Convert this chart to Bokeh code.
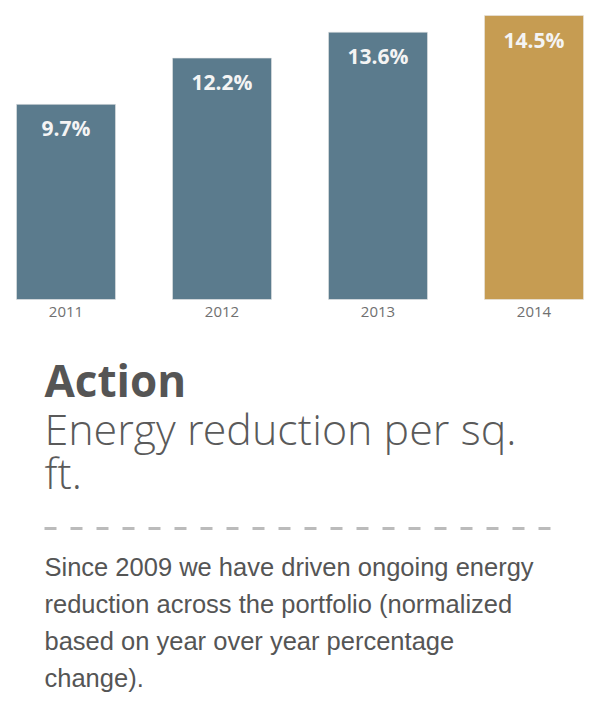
from bokeh.plotting import figure
from bokeh.layouts import column
from bokeh.models import Range1d, ColumnDataSource
from bokeh.core.properties import value
from bokeh.embed import file_html
from bokeh.resources import INLINE

# ---- data ----
years = [2011, 2012, 2013, 2014]
year_labels = ["2011", "2012", "2013", "2014"]
reduction = [9.7, 12.2, 13.6, 14.5]
value_labels = ["9.7%", "12.2%", "13.6%", "14.5%"]
bar_colors = ["#5b7b8d", "#5b7b8d", "#5b7b8d", "#c69c52"]

title_bold = "Action"
title_lines = ["Energy reduction per sq.", "ft."]
body_lines = [
    "Since 2009 we have driven ongoing energy",
    "reduction across the portfolio (normalized",
    "based on year over year percentage",
    "change).",
]

W = 586
BASE = -0.85
PX = 18.5  # pixels per percentage point

src = ColumnDataSource(dict(x=years, top=reduction, lab=value_labels,
                            yl=year_labels, color=bar_colors,
                            base=[BASE] * len(years)))

H1 = 338
x0 = years[0] - 65.5 / 156
p = figure(width=W, height=H1, output_backend="svg", toolbar_location=None,
           x_range=Range1d(x0, x0 + W / 156),
           y_range=Range1d(BASE - 39 / PX, BASE + 299 / PX),
           min_border=0, outline_line_color=None)
p.axis.visible = False
p.grid.visible = False
p.background_fill_color = "white"
p.border_fill_color = "white"

p.vbar(x="x", top="top", bottom="base", width=0.635, color="color",
       line_color="#e8e8e8", line_alpha=0.6, line_width=1, source=src)
p.text(x="x", y="top", text="lab", source=src, text_align="center",
       text_baseline="alphabetic", y_offset=24, text_color="#f4f4f4",
       text_font=value("Open Sans"), text_font_size="21px", text_font_style="bold")
p.text(x="x", y="base", text="yl", source=src, text_align="center",
       text_baseline="alphabetic", y_offset=12.5, text_color="#707070",
       text_font=value("Open Sans"), text_font_size="15px")

H2 = 364
q = figure(width=W, height=H2, output_backend="svg", toolbar_location=None,
           x_range=Range1d(0, W), y_range=Range1d(H2, 0),
           min_border=0, outline_line_color=None)
q.axis.visible = False
q.grid.visible = False

q.text(x=[44], y=[41.5], text=[title_bold], text_baseline="alphabetic",
       text_color="#555555", text_font=value("Open Sans"), text_font_size="44px",
       text_font_style="bold")
q.text(x=[44, 44], y=[90, 134], text=title_lines, text_baseline="alphabetic",
       text_color="#5a5a5a", text_font=value("Open Sans Light"), text_font_size="43px")
q.line(x=[44, 552], y=[190, 190], line_color="#bbbbbb", line_width=3,
       line_dash="12 14")
q.text(x=[44] * 4, y=[228.5, 265.5, 302.5, 339.5], text=body_lines,
       text_baseline="alphabetic", text_color="#555555",
       text_font=value("Liberation Sans"), text_font_size="25.5px")

layout = column(p, q, spacing=0)
open("out.html", "w").write(file_html(layout, INLINE))
